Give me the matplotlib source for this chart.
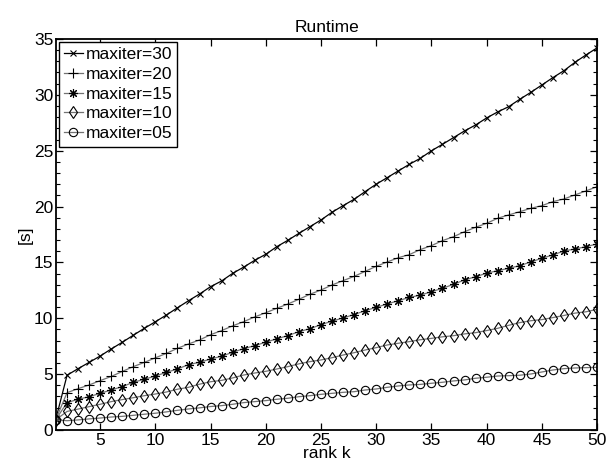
import matplotlib
matplotlib.use("Agg")
import matplotlib.pyplot as plt
from matplotlib.ticker import MultipleLocator

plt.rcParams["font.family"] = ["Liberation Sans", "DejaVu Sans"]

rank = list(range(1, 51))

maxiter30 = [1.05, 4.9, 5.49, 6.05, 6.62, 7.25, 7.85, 8.48, 9.1, 9.69,
             10.29, 10.94, 11.57, 12.17, 12.83, 13.34, 14.02, 14.58, 15.19, 15.73,
             16.41, 16.98, 17.6, 18.2, 18.8, 19.49, 20.08, 20.65, 21.34, 22.0,
             22.59, 23.19, 23.78, 24.32, 24.99, 25.57, 26.17, 26.77, 27.3, 27.93,
             28.47, 28.94, 29.6, 30.22, 30.88, 31.54, 32.16, 32.91, 33.57, 34.2]
maxiter20 = [1.0, 3.34, 3.7, 4.03, 4.42, 4.79, 5.24, 5.67, 6.05, 6.46,
             6.86, 7.31, 7.7, 8.06, 8.53, 8.9, 9.32, 9.7, 10.12, 10.5,
             10.89, 11.28, 11.7, 12.15, 12.53, 12.98, 13.37, 13.75, 14.2, 14.65,
             15.04, 15.42, 15.7, 16.15, 16.5, 16.95, 17.3, 17.75, 18.14, 18.5,
             18.95, 19.25, 19.54, 19.84, 20.08, 20.44, 20.68, 21.04, 21.4, 21.78]
maxiter15 = [0.97, 2.45, 2.75, 2.98, 3.28, 3.58, 3.88, 4.27, 4.54, 4.83,
             5.16, 5.46, 5.85, 6.06, 6.35, 6.6, 6.96, 7.28, 7.55, 7.86,
             8.16, 8.45, 8.8, 9.07, 9.43, 9.74, 10.03, 10.33, 10.68, 10.98,
             11.28, 11.57, 11.87, 12.07, 12.38, 12.68, 13.04, 13.43, 13.72, 14.03,
             14.26, 14.47, 14.71, 15.04, 15.37, 15.67, 16.02, 16.2, 16.41, 16.65]
maxiter10 = [0.93, 1.66, 1.87, 2.09, 2.3, 2.54, 2.72, 2.89, 3.07, 3.22,
             3.4, 3.65, 3.82, 4.1, 4.32, 4.44, 4.66, 4.92, 5.1, 5.25,
             5.46, 5.67, 5.92, 6.12, 6.27, 6.47, 6.71, 6.92, 7.16, 7.37,
             7.61, 7.76, 7.91, 8.08, 8.2, 8.34, 8.44, 8.6, 8.71, 8.9,
             9.1, 9.37, 9.61, 9.78, 9.88, 10.06, 10.25, 10.46, 10.58, 10.8]
maxiter05 = [0.9, 0.83, 0.9, 0.99, 1.07, 1.16, 1.22, 1.31, 1.41, 1.5,
             1.62, 1.76, 1.88, 1.98, 2.1, 2.18, 2.3, 2.45, 2.54, 2.63,
             2.75, 2.84, 2.98, 3.07, 3.19, 3.28, 3.37, 3.43, 3.58, 3.67,
             3.82, 3.94, 4.03, 4.08, 4.18, 4.27, 4.39, 4.48, 4.63, 4.72,
             4.83, 4.86, 4.9, 5.01, 5.19, 5.37, 5.49, 5.55, 5.58, 5.61]

fig = plt.figure(figsize=(6.15, 4.69), dpi=100)
ax = fig.add_axes([0.0911, 0.0832, 0.8797, 0.8337])

# asterisk like matlab's '*': eight thin arms
asterisk = (8, 2, 0)

# (values, label, marker, size, line colour)
series = [
    (maxiter30, "maxiter=30", "x", 5, "black"),
    (maxiter20, "maxiter=20", "+", 7, "0.45"),
    (maxiter15, "maxiter=15", asterisk, 6.5, "0.45"),
    (maxiter10, "maxiter=10", "d", 6.5, "0.45"),
    (maxiter05, "maxiter=05", "o", 6, "0.45"),
]
for vals, label, mk, ms, lc in series:
    ax.plot(rank, vals, color=lc, lw=0.9, marker=mk, markersize=ms,
            markeredgecolor="black", markerfacecolor="none", markeredgewidth=0.8,
            label=label)

ax.set_xlim(1, 50)
ax.set_ylim(0, 35)
ax.set_xticks([5, 10, 15, 20, 25, 30, 35, 40, 45, 50])
ax.yaxis.set_major_locator(MultipleLocator(5))
ax.yaxis.set_minor_locator(MultipleLocator(1))
ax.tick_params(which="both", direction="in", top=True, right=True,
               labelsize=12.5, pad=2)
ax.tick_params(which="major", length=5, width=0.9)
ax.tick_params(which="minor", length=3, width=0.8)
for sp in ax.spines.values():
    sp.set_linewidth(1.3)

ax.set_title("Runtime", fontsize=12.5, pad=5)
ax.set_xlabel("rank k", fontsize=12.5, labelpad=-1)
ax.set_ylabel("[s]", fontsize=12.5, labelpad=1)

leg = ax.legend(loc="upper left", fontsize=12.5, handlelength=1.1,
                handletextpad=0.15, borderpad=0.3, labelspacing=0.27,
                borderaxespad=0.15, fancybox=False, framealpha=1)
leg.get_frame().set_edgecolor("black")
leg.get_frame().set_linewidth(1.0)

fig.savefig("out.png", dpi=100)
